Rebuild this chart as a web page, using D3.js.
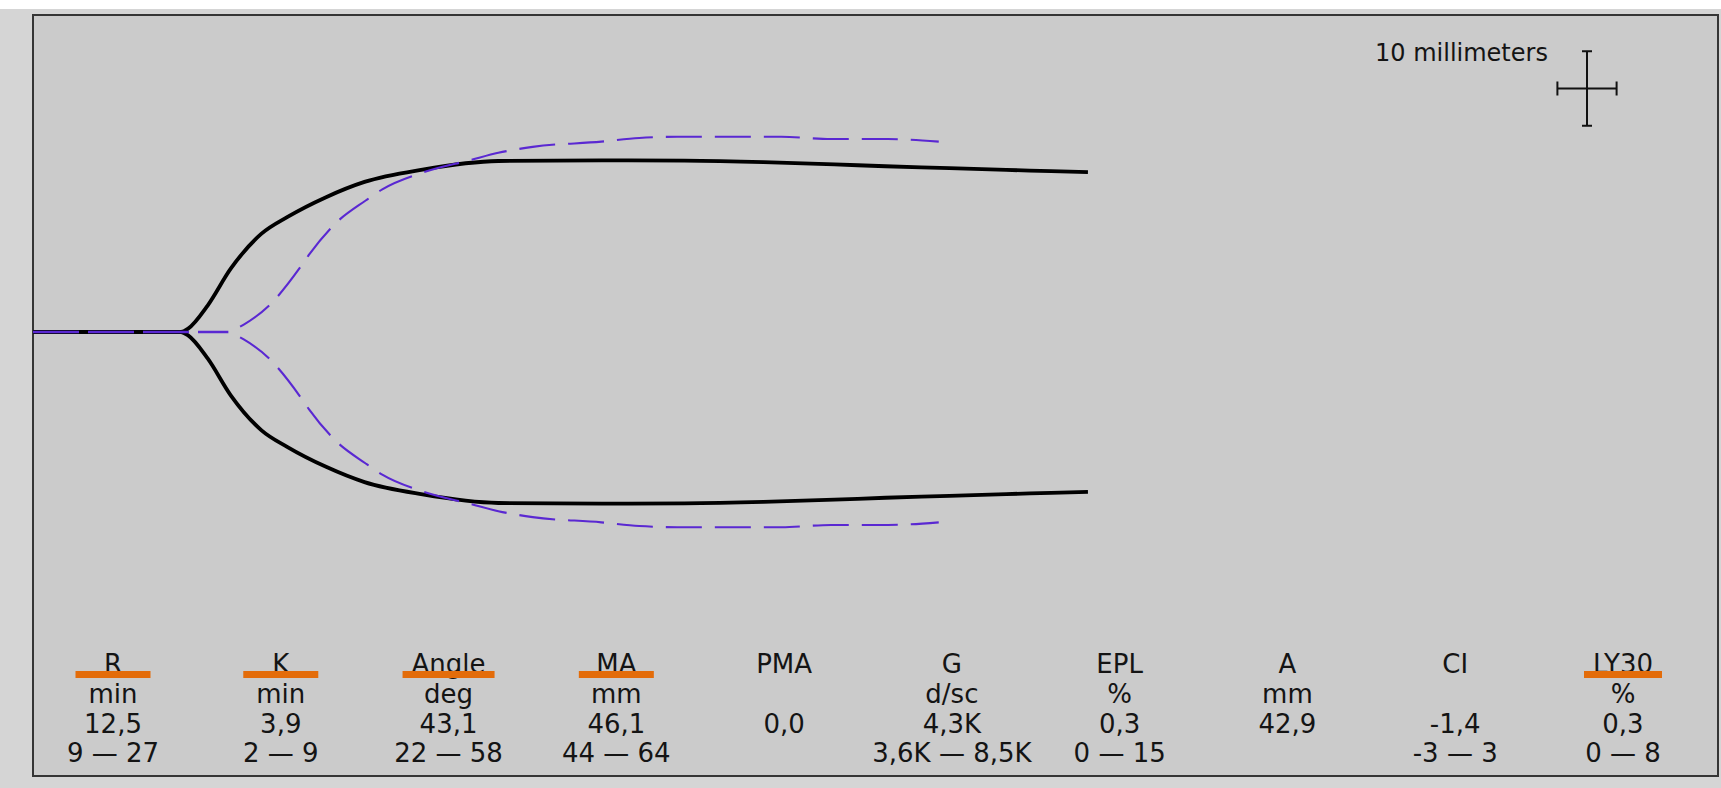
<!DOCTYPE html>
<html>
<head>
<meta charset="utf-8">
<script src="https://cdn.jsdelivr.net/npm/d3@7"></script>
<style>
  html, body { margin: 0; padding: 0; background: #d5d5d5; }
  svg { display: block; }
  text { font-family: "DejaVu Sans", Verdana, sans-serif; fill: #141414; }
</style>
</head>
<body>
<svg id="teg" width="1721" height="788"></svg>
<script>
// ---- Patient trace: time (min) and amplitude (mm) ----
const traceTime = [0, 12.5, 13.1, 14.75, 16.7, 19.3, 21.5, 24.75, 28.0, 32.9, 39.3, 48.0, 55.0, 61.7, 67.7, 72.0, 77.4, 82.2, 86.0, 89.1];
const traceAmp  = [0, 0,    0.9,  7.1,   17.0, 26.4, 30.9, 36.2,  40.3, 43.6, 45.9, 46.1, 46.0, 45.6, 45.0, 44.5, 44.0, 43.5, 43.2, 42.9];

// ---- Normal reference trace ----
const normalTime = [0, 16.5, 17.8, 19.9, 22.6, 23.3, 25.5, 28.1, 29.5, 32.9, 37.0, 39.3, 42.2, 48.0, 51.2, 54.4, 58.5, 63.2, 67.4, 72.2, 76.5];
const normalAmp  = [0, 0,    2.0,  7.0,  17.5, 20.7, 29.0, 35.3, 38.3, 42.8, 46.2, 48.1, 49.7, 51.1, 52.1, 52.4, 52.4, 52.4, 51.8, 51.8, 51.1];

// ---- Parameter table ----
const paramNames  = ["R", "K", "Angle", "MA", "PMA", "G", "EPL", "A", "CI", "LY30"];
const paramUnits  = ["min", "min", "deg", "mm", "", "d/sc", "%", "mm", "", "%"];
const paramValues = ["12,5", "3,9", "43,1", "46,1", "0,0", "4,3K", "0,3", "42,9", "-1,4", "0,3"];
const paramRanges = ["9 — 27", "2 — 9", "22 — 58", "44 — 64", "", "3,6K — 8,5K", "0 — 15", "", "-3 — 3", "0 — 8"];
const flaggedParams = ["R", "K", "Angle", "MA", "LY30"];

// scale bar: 10 mm of chart paper (paper speed 2 mm/min)
const scaleBarMM = 10;
const paperSpeed = 2;

const W = 1721, H = 788;
const frame = { left: 33, top: 15, right: 1718, bottom: 776 };
const baseY = 332;

const svg = d3.select("#teg");

// page margins
svg.append("rect").attr("x", 0).attr("y", 0).attr("width", W).attr("height", 9).attr("fill", "#ffffff");

// chart panel
svg.append("rect")
  .attr("x", frame.left).attr("y", frame.top)
  .attr("width", frame.right - frame.left).attr("height", frame.bottom - frame.top)
  .attr("fill", "#cbcbcb").attr("stroke", "#353535").attr("stroke-width", 2);

// time (min) -> px, branch offset (mm) -> px
const x = d3.scaleLinear().domain([0, 100]).range([frame.left, frame.left + 1184]);
const pxPerMM = 7.45;
const y = d3.scaleLinear().domain([-40, 40]).range([baseY + 40 * pxPerMM, baseY - 40 * pxPerMM]);

const line = d3.line().x(d => x(d[0])).y(d => y(d[1])).curve(d3.curveMonotoneX);

function branch(times, amps, sign, from, to) {
  const pts = [];
  for (let i = from; i <= to; i++) pts.push([times[i], sign * amps[i] / 2]);
  return pts;
}

const plot = svg.append("g");

// patient trace (both branches)
[1, -1].forEach(s => {
  plot.append("path")
    .attr("d", line(branch(traceTime, traceAmp, s, 0, traceTime.length - 1)))
    .attr("fill", "none").attr("stroke", "#000").attr("stroke-width", 3.8)
    .attr("stroke-linejoin", "round");
});

// normal trace: shared baseline, then dashed branches
plot.append("path")
  .attr("d", line(branch(normalTime, normalAmp, 1, 0, 1)))
  .attr("fill", "none").attr("stroke", "#5a28d2").attr("stroke-width", 2.6)
  .attr("stroke-dasharray", "46,9");

[1, -1].forEach(s => {
  plot.append("path")
    .attr("d", line(branch(normalTime, normalAmp, s, 1, normalTime.length - 1)))
    .attr("fill", "none").attr("stroke", "#5a28d2").attr("stroke-width", 2.1)
    .attr("stroke-dasharray", "36,13").attr("stroke-dashoffset", 36);
});

// 10 mm scale cross
const cx = 1587, cy = 88.5;
const vHalf = (y(0) - y(scaleBarMM)) / 2;
const hHalf = (x(scaleBarMM / paperSpeed) - x(0)) / 2;
const cross = svg.append("g").attr("stroke", "#111").attr("stroke-width", 2);
cross.append("line").attr("x1", cx).attr("x2", cx).attr("y1", cy - vHalf).attr("y2", cy + vHalf);
cross.append("line").attr("x1", cx - 5).attr("x2", cx + 5).attr("y1", cy - vHalf).attr("y2", cy - vHalf);
cross.append("line").attr("x1", cx - 5).attr("x2", cx + 5).attr("y1", cy + vHalf).attr("y2", cy + vHalf);
cross.append("line").attr("x1", cx - hHalf).attr("x2", cx + hHalf).attr("y1", cy).attr("y2", cy);
cross.append("line").attr("x1", cx - hHalf).attr("x2", cx - hHalf).attr("y1", cy - 7).attr("y2", cy + 7);
cross.append("line").attr("x1", cx + hHalf).attr("x2", cx + hHalf).attr("y1", cy - 7).attr("y2", cy + 7);

svg.append("text").attr("x", 1375).attr("y", 61)
  .attr("font-size", 24).text(`${scaleBarMM} millimeters`);

// parameter table
const col = d3.scalePoint().domain(paramNames).range([113, 1623]);
const rows = [
  { vals: paramNames,  y: 673 },
  { vals: paramUnits,  y: 703 },
  { vals: paramValues, y: 733 },
  { vals: paramRanges, y: 762 }
];
const table = svg.append("g").attr("text-anchor", "middle").attr("font-size", 26);
const headerNodes = {};
rows.forEach((r, ri) => {
  r.vals.forEach((v, i) => {
    const t = table.append("text").attr("x", col(paramNames[i])).attr("y", r.y).text(v);
    if (ri === 0) headerNodes[paramNames[i]] = t;
  });
});

// orange underline on flagged parameters
flaggedParams.forEach(p => {
  const w = Math.max(75, headerNodes[p].node().getComputedTextLength() + 18);
  svg.append("rect")
    .attr("x", col(p) - w / 2).attr("y", 671)
    .attr("width", w).attr("height", 7)
    .attr("fill", "#e36c0a");
});
</script>
</body>
</html>
